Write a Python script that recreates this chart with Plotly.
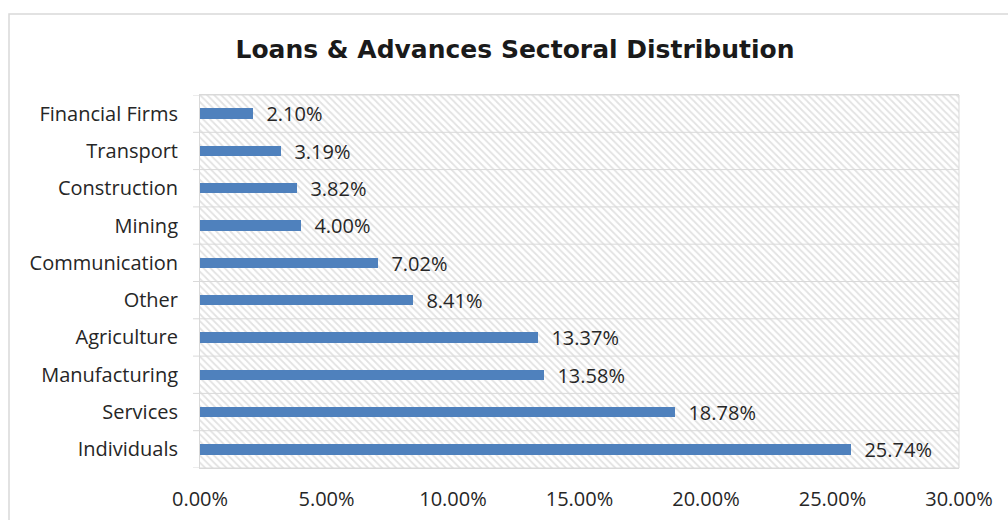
import plotly.graph_objects as go

categories = ["Individuals", "Services", "Manufacturing", "Agriculture", "Other",
              "Communication", "Mining", "Construction", "Transport", "Financial Firms"]
values = [25.74, 18.78, 13.58, 13.37, 8.41, 7.02, 4.00, 3.82, 3.19, 2.10]
tick_vals = [0, 5, 10, 15, 20, 25, 30]
tick_text = ["0.00%", "5.00%", "10.00%", "15.00%", "20.00%", "25.00%", "30.00%"]
title_text = "Loans & Advances Sectoral Distribution"

L, R, T, B = 200, 49, 95, 52
W, H = 1008, 520
pw, ph = W - L - R, H - T - B
FONT = "Open Sans"
GRID = "#d9d9d9"

fig = go.Figure()

# hatched plot-area background
fig.add_trace(go.Bar(
    y=categories, x=[tick_vals[-1]] * len(categories), orientation="h", width=1,
    marker=dict(color="white", line=dict(width=0),
                pattern=dict(shape="\\", fgcolor="#c6c6c6", bgcolor="white", size=5, solidity=0.35)),
    hoverinfo="skip", showlegend=False,
))

fig.add_trace(go.Bar(
    y=categories, x=values, orientation="h", width=0.28,
    marker=dict(color="#4f81bd", line=dict(width=0)),
    text=[f"  {v:.2f}%" for v in values], textposition="outside", constraintext="none",
    textfont=dict(family=FONT, size=20, color="#262626"),
    cliponaxis=False, showlegend=False, hoverinfo="skip",
))

shapes = []
# horizontal separators between categories (extending slightly left like tick marks)
for i in range(len(categories) + 1):
    shapes.append(dict(type="line", xref="paper", yref="y", x0=-7 / pw, x1=1,
                       y0=i - 0.5, y1=i - 0.5, line=dict(color=GRID, width=1), layer="above"))
# outer chart border
shapes.append(dict(type="rect", xref="paper", yref="paper",
                   x0=(9 - L) / pw, x1=(1020 - L) / pw,
                   y0=1 - (540 - T) / ph, y1=1 + (T - 14) / ph,
                   line=dict(color=GRID, width=1.5), fillcolor="rgba(0,0,0,0)"))
# right border of plot area
shapes.append(dict(type="line", xref="paper", yref="paper", x0=1, x1=1, y0=0, y1=1,
                   line=dict(color=GRID, width=1)))

fig.update_layout(
    width=W, height=H,
    margin=dict(l=L, r=R, t=T, b=B, autoexpand=False),
    barmode="overlay",
    bargap=0,
    paper_bgcolor="white", plot_bgcolor="white",
    title=dict(text=title_text, x=515 / W, xanchor="center", y=1 - 49 / H, yanchor="middle",
               font=dict(family="DejaVu Sans", size=25, color="#1a1a1a", weight="bold")),
    xaxis=dict(range=[0, 30], tickvals=tick_vals, ticktext=tick_text,
               showgrid=True, gridcolor=GRID, gridwidth=1, zeroline=False,
               showline=True, linecolor=GRID, mirror=True, automargin=False,
               tickfont=dict(family=FONT, size=20, color="#262626"), ticks="", ticklabelstandoff=13,
               layer="above traces"),
    yaxis=dict(categoryorder="array", categoryarray=categories, range=[-0.5, len(categories) - 0.5],
               showgrid=False, showline=True, linecolor=GRID, mirror=False, automargin=False,
               ticks="",
               tickfont=dict(family=FONT, size=20, color="#262626"), ticklabelstandoff=17,
               layer="above traces"),
    shapes=shapes,
    font=dict(family=FONT),
)

fig.write_html("out.html")
